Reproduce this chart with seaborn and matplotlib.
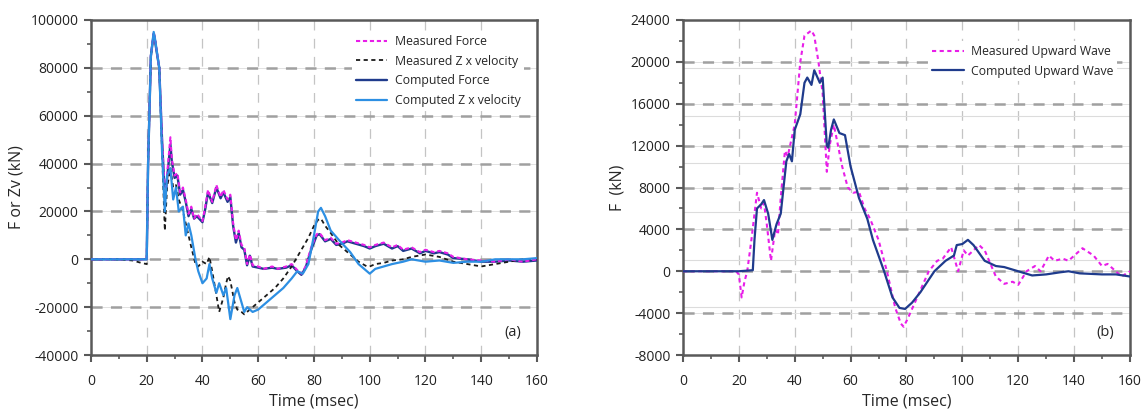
import numpy as np
import pandas as pd
import seaborn as sns
import matplotlib.pyplot as plt
from matplotlib.ticker import MultipleLocator

# ---- panel (a) data: force and Z x velocity at the pile top ----
t_force = [0, 10, 20, 20.5, 21.5, 22.5, 23, 24.5, 25.5, 26.3, 27, 27.5, 28.5, 29, 30, 31, 32, 33,
           34, 35, 36, 37, 38, 40, 41, 42, 43.5, 45, 46.5, 47.5, 49, 50, 51, 52, 53, 54, 55, 56,
           57, 58, 60, 62, 65, 67, 70, 72, 74, 75.5, 77, 79, 81, 82, 84, 86, 88, 90, 92, 95,
           98, 100, 102, 105, 108, 110, 112, 115, 118, 120, 123, 125, 128, 130, 135, 140, 145,
           150, 155, 160]
f_meas = [0, 0, 0, 40000, 85000, 95000, 92000, 80000, 50000, 32000, 30000, 38000, 51000, 42000,
          35000, 36000, 28000, 30000, 25000, 19000, 22000, 17000, 19000, 16000, 22000, 29000,
          24000, 31000, 26000, 29000, 25000, 27000, 15000, 8000, 12000, 6000, 5000, -2000, 2000,
          -2500, -3000, -4000, -3000, -4000, -3000, -2000, -4500, -6000, -3000, 5000, 10500,
          11000, 8000, 9000, 6500, 7000, 8000, 7000, 6000, 5000, 6000, 7000, 5000, 6000, 4000,
          5000, 3000, 4000, 3000, 3500, 2500, 1000, 0, -500, -1000, 0, -1000, 0]
f_comp = [0, 0, 0, 40000, 85000, 94000, 91000, 80000, 50000, 31000, 30000, 36000, 48000, 41000,
          34000, 35000, 27000, 29000, 24000, 18000, 21000, 17000, 18000, 15500, 21000, 28000,
          23500, 30000, 25500, 28000, 24000, 26000, 14000, 7000, 11000, 5000, 4000, -2500, 1500,
          -3000, -3500, -4000, -3500, -4000, -3500, -2500, -5000, -6500, -3500, 4000, 10000,
          10500, 7500, 8500, 6000, 6500, 7500, 6500, 5500, 4500, 5500, 6500, 4500, 5500, 3500,
          4500, 2500, 3500, 2500, 3000, 2000, 500, 0, -1000, -1000, -500, -1000, -500]

t_zv = [0, 10, 15, 18, 20, 20.5, 21.5, 22.5, 23, 24.5, 25.5, 26.5, 27.3, 28.5, 29.5, 30.5, 31.5,
        33, 34, 35, 36, 37.5, 38.5, 40, 41.5, 42.5, 43.5, 45, 46, 47.5, 48.5, 49.2, 50, 51.5, 52.5,
        54, 55, 56, 58, 60, 63, 66, 69, 72, 74, 76, 78, 80, 81.5, 82.5, 84, 86, 89, 93, 96, 99,
        100, 102, 105, 108, 112, 115, 120, 125, 130, 135, 140, 145, 150, 155, 160]
zv_meas = [0, 0, -500, -1500, -2000, 40000, 85000, 95000, 92000, 80000, 45000, 12000, 30000,
           38000, 30000, 31000, 25000, 20000, 15000, 10000, 5000, -2000, -3000, -1000, -2000,
           1000, -5000, -15000, -22000, -16000, -10000, -7000, -9000, -18000, -21000, -22000,
           -23000, -22000, -20000, -18000, -15000, -12000, -8000, -3000, 1000, 5000, 9000, 14000,
           16500, 17000, 14000, 11000, 6000, 2000, -1000, -3000, -3000, -2000, -1500, -500, 0,
           1000, 2000, 1000, -1000, -2000, -3000, -2000, -1000, 0, 0]
zv_comp = [0, 0, 0, 0, 0, 40000, 85000, 95000, 92000, 80000, 45000, 20000, 35000, 38000, 25000,
           30000, 20000, 22000, 10000, 15000, 10000, 0, -5000, -10000, -8000, -2000, -8000,
           -14000, -10000, -15000, -12000, -18000, -25000, -15000, -12000, -18000, -22000,
           -20000, -22000, -21000, -18000, -15000, -12000, -8000, -5000, -6000, -2000, 10000,
           20000, 21500, 18000, 12000, 8000, 3000, -2000, -5000, -6000, -4000, -3000, -2000,
           -1000, 0, -1000, -500, -1500, -1000, -1000, 0, 0, 0, 500]

# ---- panel (b) data: upward travelling wave ----
t_up_comp = [0, 10, 20, 25, 25.6, 26.5, 28, 29, 30.5, 32, 33.5, 35, 37, 38, 39, 40, 42, 43.5,
             44.5, 46, 47, 49, 50, 51.5, 52, 53, 54, 56, 58, 60, 61, 63, 66, 68, 72, 75, 77.5,
             79.5, 82, 85, 90, 94, 97, 98, 100, 102, 104, 108, 112, 115, 120, 125, 130, 135,
             138, 142, 150, 155, 160]
up_comp = [0, 0, 0, 100, 3000, 6000, 6400, 6800, 5500, 3000, 4500, 5500, 10500, 11200, 10500,
           13500, 15000, 18000, 18500, 17800, 19200, 18000, 18500, 12000, 11800, 13500, 14500,
           13200, 13000, 10000, 9000, 7000, 5000, 3000, 0, -2500, -3500, -3600, -3000, -2000, 0,
           1000, 1500, 2500, 2600, 3000, 2500, 1000, 500, 400, 0, -400, -300, -100, 0, -200,
           -300, -300, -500]
t_up_meas = [0, 10, 19, 20, 21, 22, 23, 24.5, 26.5, 28, 29, 30, 31.5, 33, 34, 35, 36.5, 37.5,
             40, 42, 43.5, 46, 47, 48.5, 50, 51.5, 52.5, 54, 55.5, 57, 59, 61, 63, 65, 67, 70,
             73, 76, 78, 79, 80.5, 83, 88, 91, 93, 96, 98.5, 100.5, 102, 106, 108, 112, 115,
             118, 120, 123, 126, 128, 131, 133, 136, 138, 143, 147, 150, 152, 157, 160]
up_meas = [0, 0, 0, -300, -2500, -1000, 0, 3000, 7500, 6000, 6500, 4500, 1000, 4000, 3500, 7000,
           11500, 11000, 14000, 20000, 22500, 23000, 22500, 20000, 17000, 9500, 12000, 14000,
           12000, 10000, 8000, 7500, 7600, 6000, 5000, 3000, 0, -3500, -5000, -5300, -4500,
           -3000, 0, 1000, 1200, 2300, 0, 2000, 1500, 2500, 2000, -500, -1200, -1000, -1300, 0,
           500, 0, 1500, 1000, 1200, 1000, 2200, 1500, 500, 700, -500, 0]

# faint leftover guide lines in panel (b)
faint_b = [19400, 14800, 10300, 5700, 1100, -3400]

sns.set_style("white")
plt.rcParams['font.family'] = ['Open Sans', 'DejaVu Sans']
plt.rcParams['lines.scale_dashes'] = False
plt.rcParams['axes.unicode_minus'] = False

fig = plt.figure(figsize=(11.44, 4.12), dpi=100)
ax1 = fig.add_axes([0.0795, 0.1383, 0.3899, 0.8132])
ax2 = fig.add_axes([0.5970, 0.1383, 0.3907, 0.8132])

axis_col = '#595959'


def style_axes(ax, ymin, ymax, ystep, ylabel, tag):
    ax.set_xlim(0, 160)
    ax.set_ylim(ymin, ymax)
    ax.xaxis.set_major_locator(MultipleLocator(20))
    ax.xaxis.set_minor_locator(MultipleLocator(10))
    ax.yaxis.set_major_locator(MultipleLocator(ystep))
    ax.yaxis.set_minor_locator(MultipleLocator(ystep / 2))
    # vertical grid: thin light dashes
    for x in range(20, 160, 20):
        ax.axvline(x, color='#c4c4c4', lw=0.9, dashes=(7, 6), zorder=0)
    # horizontal grid: thin solid plus heavy gray dashes
    for y in np.arange(ymin + ystep, ymax, ystep):
        ax.axhline(y, color='#e2e2e2', lw=0.7, zorder=0)
        ax.axhline(y, color='#a0a0a0', lw=1.8, dashes=(8, 6), zorder=0)
    for s in ax.spines.values():
        s.set_visible(True)
        s.set_color(axis_col)
        s.set_linewidth(1.8)
    ax.tick_params(which='major', direction='out', length=5, width=1.5, color=axis_col,
                   labelsize=10, labelcolor='#222222', pad=4, bottom=True, left=True)
    ax.tick_params(axis='x', which='major', pad=9)
    ax.tick_params(which='minor', direction='out', length=3, width=1.2, color=axis_col,
                   bottom=True, left=True)
    ax.text(0.965, 0.045, tag, transform=ax.transAxes, ha='right', va='bottom', fontsize=10.5)


style_axes(ax1, -40000, 100000, 20000, 'F or Zv (kN)', '(a)')
style_axes(ax2, -8000, 24000, 4000, 'F  (kN)', '(b)')

for y in faint_b:
    ax2.axhline(y, color='#dcdcdc', lw=0.8, zorder=0)

navy = '#1f3b8c'
light = '#2d8fe3'
magenta = '#e81ee8'

df_f = pd.DataFrame({'t': t_force, 'meas': f_meas, 'comp': f_comp})
df_z = pd.DataFrame({'t': t_zv, 'meas': zv_meas, 'comp': zv_comp})

sns.lineplot(data=df_f, x='t', y='comp', ax=ax1, color=navy, lw=1.7, label='Computed Force',
             zorder=3)
sns.lineplot(data=df_f, x='t', y='meas', ax=ax1, color=magenta, lw=1.5,
             label='Measured Force', zorder=4)
ax1.lines[-1].set_dashes((3, 2))
sns.lineplot(data=df_z, x='t', y='meas', ax=ax1, color='#1a1a1a', lw=1.3,
             label='Measured Z x velocity', zorder=3)
ax1.lines[-1].set_dashes((3, 2.5))
sns.lineplot(data=df_z, x='t', y='comp', ax=ax1, color=light, lw=1.6,
             label='Computed Z x velocity', zorder=4)

h, l = ax1.get_legend_handles_labels()
order = [l.index(n) for n in ['Measured Force', 'Measured Z x velocity', 'Computed Force',
                              'Computed Z x velocity']]
ax1.legend([h[i] for i in order], [l[i] for i in order], loc='upper right', frameon=True,
           framealpha=1, edgecolor='none', facecolor='white', fontsize=8.8,
           bbox_to_anchor=(0.985, 0.985), handlelength=2.6, labelspacing=0.55,
           handletextpad=0.6, borderpad=0.3)

df_u1 = pd.DataFrame({'t': t_up_meas, 'v': up_meas})
df_u2 = pd.DataFrame({'t': t_up_comp, 'v': up_comp})
sns.lineplot(data=df_u1, x='t', y='v', ax=ax2, color=magenta, lw=1.5,
             label='Measured Upward Wave', zorder=3)
ax2.lines[-1].set_dashes((3, 2.5))
sns.lineplot(data=df_u2, x='t', y='v', ax=ax2, color=navy, lw=1.6,
             label='Computed Upward Wave', zorder=4)
ax2.legend(loc='upper right', frameon=True, framealpha=1, edgecolor='none', facecolor='white',
           fontsize=8.8, bbox_to_anchor=(0.985, 0.955), handlelength=2.6, labelspacing=0.55,
           handletextpad=0.6, borderpad=0.3)

for ax, yl in [(ax1, 'F or Zv (kN)'), (ax2, 'F  (kN)')]:
    ax.set_xlabel('Time (msec)', fontsize=11.5, labelpad=3)
    ax.set_ylabel(yl, fontsize=11.5, labelpad=4)

fig.savefig('out.png', dpi=100)
